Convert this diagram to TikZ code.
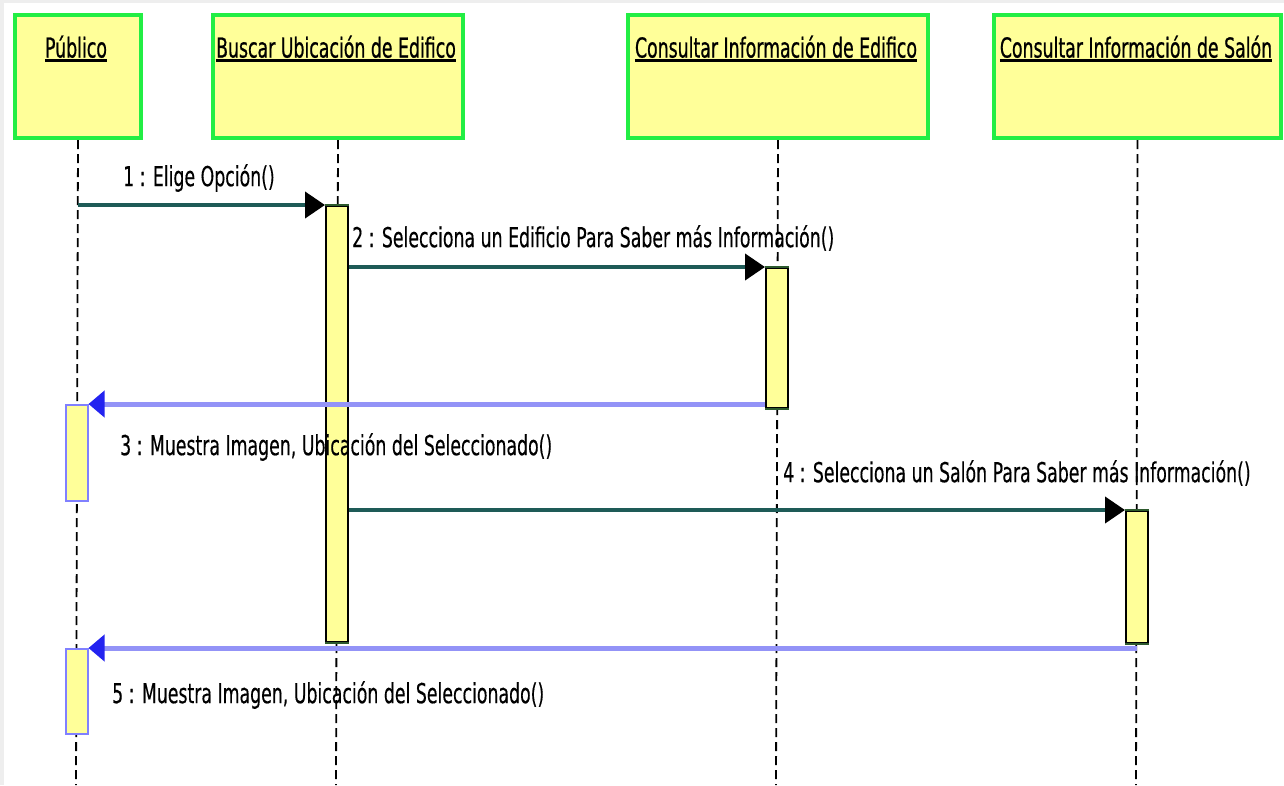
\documentclass[tikz,border=0pt]{standalone}
\usepackage{fontspec}
\newfontfamily\umlfont[FakeStretch=0.63,FakeBold=0.3]{DejaVu Sans}
\newfontfamily\umlheadfont[FakeStretch=0.63,FakeBold=0.7]{DejaVu Sans}
\usetikzlibrary{arrows.meta}
\definecolor{objfill}{HTML}{FFFF99}
\definecolor{objedge}{HTML}{22EE44}
\definecolor{callline}{HTML}{1E5B57}
\definecolor{retline}{HTML}{9393F7}
\definecolor{rethead}{HTML}{2323F0}
\definecolor{actedge}{HTML}{2D5A2D}
\definecolor{retedge}{HTML}{8080FF}
\definecolor{framegray}{HTML}{EEEEEE}
% underlined object name
\newcommand\ulname[1]{\begingroup\setbox0=\hbox{#1}\dimen0=\wd0
  \vbox{\box0\kern1.5pt\hrule height 3pt width \dimen0}\endgroup}
\begin{document}
\begin{tikzpicture}[x=1pt,y=-1pt,
  font=\umlfont\fontsize{27.5}{32}\selectfont,
  object/.style={draw=objedge, fill=objfill, line width=4pt, minimum height=123pt,
    inner sep=0, anchor=north west},
  objname/.style={inner sep=0, anchor=center, font=\umlheadfont\fontsize{27.5}{32}\selectfont},
  lifeline/.style={draw=black, line width=1.8pt, dash pattern=on 9pt off 5pt},
  actbar/.style={fill=objfill, draw=black, line width=1.5pt, minimum width=22pt,
    inner sep=0, anchor=north west},
  pubbar/.style={actbar, draw=retedge},
  actcap/.style={draw=actedge, line width=2pt},
  call/.style={draw=callline, line width=4pt, -{Triangle[length=20pt,width=26pt,color=black]}},
  reply/.style={draw=retline, line width=5pt, -{Triangle[length=16pt,width=26pt,color=rethead]}},
  msg/.style={anchor=west, inner sep=0}
]
\useasboundingbox[fill=white] (0,0) rectangle (1284,785);
\fill[framegray] (0,0) rectangle (1284,3);
\fill[framegray] (0,0) rectangle (4,785);

% objects
\node[object, minimum width=126pt] (pub) at (13,13) {};
\node[object, minimum width=250pt] (bus) at (211,13) {};
\node[object, minimum width=300pt] (edi) at (626,13) {};
\node[object, minimum width=287pt] (sal) at (992,13) {};

\node[objname] (pubname) at (76,49) {\ulname{Público}};
\node[objname] (busname) at (336,49) {\ulname{Buscar Ubicación de Edifico}};
\node[objname] (ediname) at (776,49) {\ulname{Consultar Información de Edifico}};
\node[objname] (salname) at (1136,49) {\ulname{Consultar Información de Salón}};

% lifelines
\coordinate (pubend) at (76,785);
\coordinate (busend) at (336,785);
\coordinate (ediend) at (776,785);
\coordinate (salend) at (1136,785);
\draw[lifeline] (pub.south) -- (pubend);
\draw[lifeline] (bus.south) -- (busend);
\draw[lifeline] (edi.south) -- (ediend);
\draw[lifeline] (sal.south) -- (salend);

% activation bars
\node[actbar, minimum height=436pt] (act1) at (325,205) {};
\node[actbar, minimum height=140pt] (act2) at (765,267) {};
\node[pubbar, minimum height=96pt] (act3) at (65,404) {};
\node[actbar, minimum height=132pt] (act4) at (1125,510) {};
\node[pubbar, minimum height=85pt] (act5) at (65,648) {};
\foreach \a in {act1,act2,act4}{
  \draw[actcap] (\a.north west) -- (\a.north east);
  \draw[actcap] (\a.south west) -- (\a.south east);
}

% messages
\draw[call] (pub.south |- act1.north) -- (act1.north west);
\draw[call] (act1.east |- act2.north) -- (act2.north west);
\draw[reply] (act2.west |- act3.north) -- (act3.north east);
\draw[call] (act1.east |- act4.north) -- (act4.north west);
\draw[reply] (act4.south |- act5.north) -- (act5.north east);

% message labels
\node[msg] (m1) at (123,178) {1 : Elige Opción()};
\node[msg] (m2) at (352,238) {2 : Selecciona un Edificio Para Saber más Información()};
\node[msg] (m3) at (120,447) {3 : Muestra Imagen, Ubicación del Seleccionado()};
\node[msg] (m4) at (783,473) {4 : Selecciona un Salón Para Saber más Información()};
\node[msg] (m5) at (112,695) {5 : Muestra Imagen, Ubicación del Seleccionado()};
\end{tikzpicture}
\end{document}
